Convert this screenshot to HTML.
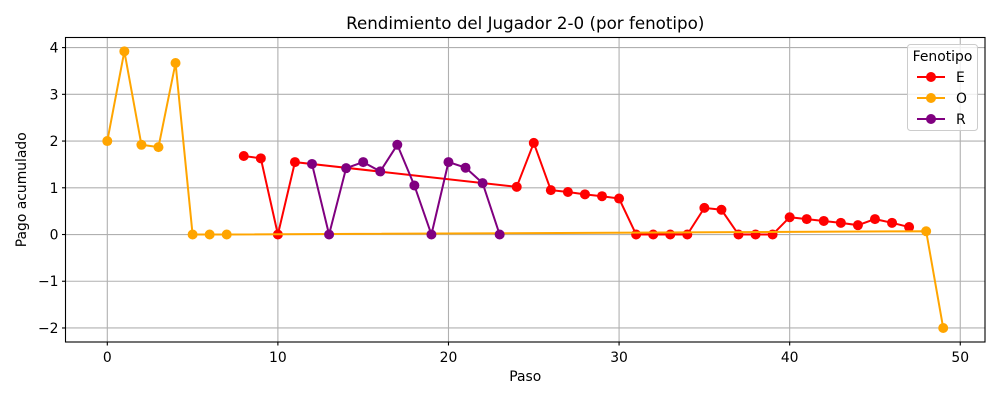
<!DOCTYPE html>
<html><head><meta charset="utf-8"><style>
body{margin:0;background:#fff;}
svg text{font-family:"DejaVu Sans","Liberation Sans",sans-serif;}
</style></head><body>
<svg id="chart" width="1000" height="400" xmlns="http://www.w3.org/2000/svg"></svg>
<script>
const xTicks=[0,10,20,30,40,50];
const yTicks=[-2,-1,0,1,2,3,4];
const yTickLabels=["\u22122","\u22121","0","1","2","3","4"];
const eSteps=[8,9,10,11,24,25,26,27,28,29,30,31,32,33,34,35,36,37,38,39,40,41,42,43,44,45,46,47];
const eVals=[1.68,1.63,0,1.55,1.02,1.96,0.95,0.91,0.86,0.82,0.77,0,0,0,0,0.57,0.53,0,0,0,0.37,0.33,0.29,0.25,0.2,0.33,0.25,0.16];
const oSteps=[0,1,2,3,4,5,6,7,48,49];
const oVals=[2.0,3.92,1.92,1.87,3.67,0,0,0,0.07,-2.0];
const rSteps=[12,13,14,15,16,17,18,19,20,21,22,23];
const rVals=[1.51,0,1.42,1.55,1.35,1.92,1.05,0,1.55,1.43,1.1,0];
const seriesNames=["E","O","R"];

const L=65.5,R=985,T=37.5,B=342;
const xMin=-2.45,xMax=51.45,yMin=-2.3,yMax=4.216;
const X=v=>L+(v-xMin)/(xMax-xMin)*(R-L);
const Y=v=>B-(v-yMin)/(yMax-yMin)*(B-T);
const svg=document.getElementById('chart');
const NS="http://www.w3.org/2000/svg";
function mk(tag,attrs,parent){const e=document.createElementNS(NS,tag);for(const k in attrs)e.setAttribute(k,attrs[k]);(parent||svg).appendChild(e);return e;}

const grid=mk('g',{});


xTicks.forEach(t=>{
  const l=mk('line',{x1:X(t),x2:X(t),y1:T,y2:B,stroke:'#b0b0b0','stroke-width':1.1},grid);
  
  
  const tk=mk('line',{x1:X(t),x2:X(t),y1:B,y2:B+3.5,stroke:'#000','stroke-width':1.1});
  
  
  const tx=mk('text',{x:X(t),y:B+20,'text-anchor':'middle','font-size':13.9,fill:'#000'});
  tx.textContent=t;
  
  
});
yTicks.forEach((t,i)=>{
  const l=mk('line',{x1:L,x2:R,y1:Y(t),y2:Y(t),stroke:'#b0b0b0','stroke-width':1.1},grid);
  
  
  const tk=mk('line',{x1:L-3.5,x2:L,y1:Y(t),y2:Y(t),stroke:'#000','stroke-width':1.1});
  
  
  const tx=mk('text',{x:L-7,y:Y(t)+5,'text-anchor':'end','font-size':13.9,fill:'#000'});
  tx.textContent=yTickLabels[i];
  
  
});

function series(xs,ys,color,name){
  const g=mk('g',{});
  
  
  const p=mk('polyline',{points:xs.map((x,i)=>X(x)+','+Y(ys[i])).join(' '),fill:'none',stroke:color,'stroke-width':2},g);
  
  
  xs.forEach((x,i)=>{
    const c=mk('circle',{cx:X(x),cy:Y(ys[i]),r:5,fill:color},g);
    
    
  });
}
series(eSteps,eVals,'#ff0000','e');
series(oSteps,oVals,'#ffa500','o');
series(rSteps,rVals,'#800080','r');

const frame=mk('rect',{x:L,y:T,width:R-L,height:B-T,fill:'none',stroke:'#000','stroke-width':1.1});



const title=mk('text',{x:(L+R)/2,y:29,'text-anchor':'middle','font-size':16.7,fill:'#000'});
title.textContent='Rendimiento del Jugador 2-0 (por fenotipo)';


const xl=mk('text',{x:(L+R)/2,y:381,'text-anchor':'middle','font-size':13.9,fill:'#000'});
xl.textContent='Paso';


const yl=mk('text',{x:0,y:0,'text-anchor':'middle','font-size':13.9,fill:'#000',transform:'translate(26,'+((T+B)/2)+') rotate(-90)'});
yl.textContent='Pago acumulado';



const lg=mk('g',{});


const lb=mk('rect',{x:907.5,y:44.5,width:70,height:86,rx:3,fill:'#fff','fill-opacity':0.8,stroke:'#ccc','stroke-width':1},lg);


const lt=mk('text',{x:942.5,y:61,'text-anchor':'middle','font-size':13.9,fill:'#000'},lg);
lt.textContent='Fenotipo';


const lcolors=['#ff0000','#ffa500','#800080'];
seriesNames.forEach((n,i)=>{
  const y=77+i*21;
  const e=mk('g',{},lg);
  
  
  mk('line',{x1:917,x2:945,y1:y,y2:y,stroke:lcolors[i],'stroke-width':2},e);
  mk('circle',{cx:931,cy:y,r:5,fill:lcolors[i]},e);
  const t=mk('text',{x:956,y:y+5,'font-size':13.9,fill:'#000'},e);
  t.textContent=n;
});
</script>
</body></html>
